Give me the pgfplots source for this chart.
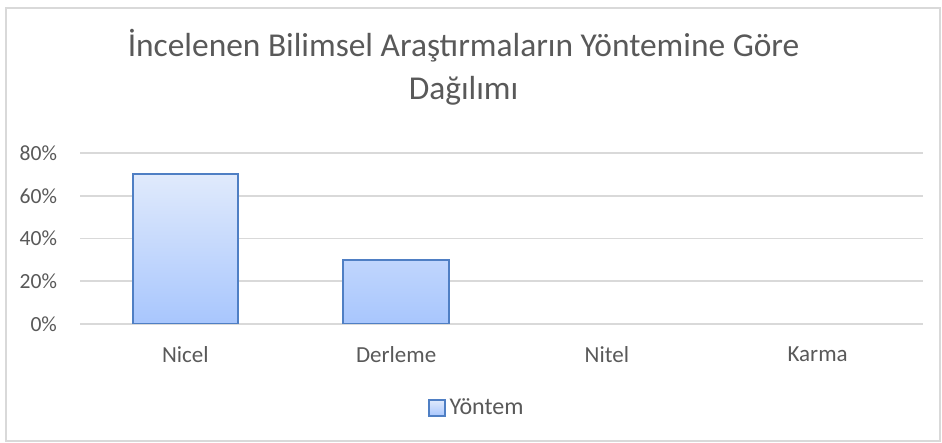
\documentclass[border=0pt]{standalone}
\usepackage{pgfplots}
\pgfplotsset{compat=1.18}
\usepackage{fontspec}
\setmainfont{Carlito}
\definecolor{txt}{HTML}{595959}
\definecolor{gridc}{HTML}{D9D9D9}
\definecolor{barline}{HTML}{4F7FC4}
\definecolor{bartop}{HTML}{E0EAFC}
\definecolor{barbot}{HTML}{A8C6FD}
\begin{document}
\begin{tikzpicture}
\path[use as bounding box] (0,0) rectangle (471pt,221.5pt);
\draw[gridc, line width=0.8pt] (3pt,1pt) rectangle (470pt,217.5pt);
\begin{axis}[
  at={(40pt,59.5pt)}, anchor=south west,
  scale only axis,
  width=421.5pt, height=85.5pt,
  xmin=-0.5, xmax=3.5,
  ymin=0, ymax=0.8,
  xtick={0,1,2,3},
  xticklabels={Nicel,Derleme,Nitel,Karma},
  ytick={0,0.2,0.4,0.6,0.8},
  yticklabels={0\%,20\%,40\%,60\%,80\%},
  axis line style={draw=none},
  major tick length=0pt,
  ymajorgrids,
  major grid style={gridc, line width=0.8pt},
  yticklabel style={anchor=east, xshift=-8pt, font=\fontsize{10.8}{12}\selectfont, text=txt},
  xticklabel style={anchor=north, yshift=-7.8pt, font=\fontsize{11.5}{13}\selectfont, text=txt},
  title={İncelenen Bilimsel Araştırmaların Yöntemine Göre\\Dağılımı},
  title style={at={(axis description cs:0.455,1.432)}, anchor=center, align=center,
    font=\fontsize{16.7}{21.5}\selectfont, text=txt},
  ybar, bar width=0.5, bar shift=0pt,
  legend style={at={(axis description cs:0.472,-0.491)}, anchor=center, draw=none,
    font=\fontsize{12}{13}\selectfont, text=txt, inner sep=0pt,
    /tikz/every even column/.append style={column sep=2pt}},
  legend image code/.code={\draw[#1,line width=0.7pt] (0pt,-4pt) rectangle (8pt,4pt);},
]
\addplot[draw=barline, line width=1pt, top color=bartop, bottom color=barbot]
  coordinates {(0,0.70) (1,0.30)};
\addlegendentry{Yöntem}
% Nitel and Karma are 0%
\addplot[draw=none, fill=none, forget plot] coordinates {(2,0) (3,0)};
\end{axis}
\end{tikzpicture}
\end{document}
